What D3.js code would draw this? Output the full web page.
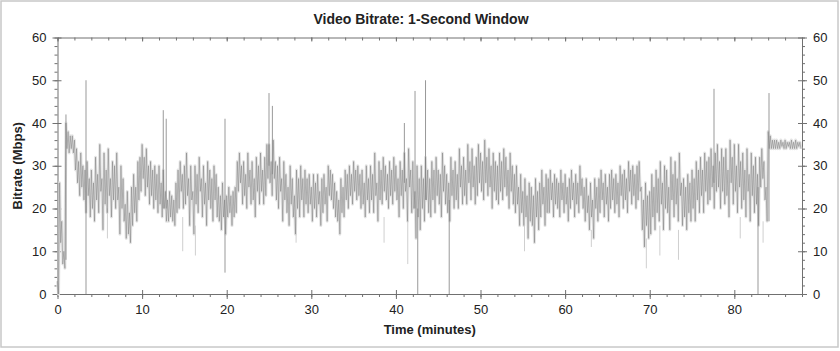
<!DOCTYPE html>
<html>
<head>
<meta charset="utf-8">
<script src="https://cdn.jsdelivr.net/npm/d3@7"></script>
<style>
  body { margin: 0; background: #fff; }
  svg { display: block; font-family: "Liberation Sans", Arial, sans-serif; }
  .axis path, .axis line { stroke: #707070; }
  .axis text { fill: #222; font-size: 13px; }
</style>
</head>
<body>
<div id="chart"></div>
<script>
// each quarter minute holds a local peak and a local trough (Mbps),
// one row per minute
var stepMinutes = 0.25;
var peakRate = [
  3, 26, 17, 10,
  40, 38, 37, 37,
  36, 34, 31, 33,
  30, 29, 31, 27,
  29, 26, 32, 28,
  35, 27, 33, 29,
  34, 27, 31, 30,
  33, 25, 30, 27,
  21, 24, 19, 25,
  28, 25, 31, 32,
  35, 32, 34, 30,
  31, 29, 30, 28,
  30, 26, 29, 24,
  22, 24, 23, 22,
  26, 29, 31, 28,
  30, 33, 27, 30,
  24, 30, 28, 32,
  27, 30, 26, 31,
  29, 27, 30, 28,
  25, 23, 26, 22,
  23, 25, 23, 24,
  25, 31, 33, 30,
  31, 28, 33, 29,
  31, 27, 32, 30,
  33, 29, 32, 35,
  35, 31, 36, 31,
  30, 32, 27, 31,
  28, 25, 30, 27,
  23, 29, 27, 30,
  27, 29, 27, 28,
  25, 28, 26, 28,
  24, 27, 28, 25,
  30, 29, 28, 26,
  24, 22, 27, 25,
  29, 28, 30, 28,
  31, 29, 30, 28,
  29, 26, 30, 27,
  30, 28, 33, 26,
  31, 29, 32, 30,
  28, 31, 29, 32,
  30, 27, 31, 29,
  33, 27, 34, 29,
  31, 24, 30, 27,
  30, 27, 32, 29,
  27, 31, 29, 32,
  29, 28, 33, 30,
  28, 26, 32, 29,
  31, 28, 34, 30,
  32, 29, 35, 31,
  34, 30, 32, 35,
  33, 31, 36, 32,
  34, 30, 33, 31,
  30, 33, 31, 34,
  32, 29, 33, 30,
  28, 30, 25, 28,
  24, 27, 23, 26,
  25, 23, 27, 24,
  26, 29, 25, 28,
  27, 29, 26, 28,
  27, 26, 29, 26,
  28, 25, 27, 29,
  26, 28, 26, 30,
  27, 25, 27, 23,
  26, 22, 27, 25,
  27, 29, 26, 28,
  25, 28, 29, 27,
  28, 26, 30, 28,
  29, 27, 31, 29,
  30, 28, 30, 31,
  25, 22, 26, 23,
  24, 28, 25, 29,
  27, 31, 26, 30,
  29, 25, 32, 28,
  31, 27, 33, 26,
  27, 25, 28, 26,
  29, 27, 31, 29,
  32, 29, 33, 31,
  32, 34, 30, 33,
  35, 31, 34, 32,
  34, 29, 36, 32,
  35, 30, 35, 31,
  33, 29, 34, 28,
  33, 30, 32, 28,
  32, 34, 31, 25,
  38, 37, 36, 36,
  36, 35.5, 36, 35.5,
  36, 35.5, 35.5, 36,
  35.5, 36, 35.5, 35.5
];
var troughRate = [
  0, 12, 7, 6,
  34, 33, 34, 33,
  29, 26, 23, 25,
  22, 19, 23, 18,
  20, 17, 22, 19,
  24, 15, 21, 19,
  23, 18, 22, 20,
  22, 14, 20, 17,
  13, 14, 12, 16,
  19, 17, 22, 24,
  27, 23, 25, 21,
  23, 20, 22, 19,
  21, 18, 20, 17,
  17, 18, 17, 16,
  19, 20, 24, 20,
  21, 23, 16, 22,
  14, 21, 19, 24,
  18, 21, 16, 22,
  20, 17, 22, 18,
  17, 15, 18, 14,
  18, 19, 16, 18,
  19, 24, 26, 21,
  23, 20, 25, 21,
  22, 18, 24, 21,
  24, 21, 23, 27,
  26, 23, 27, 22,
  20, 24, 17, 22,
  19, 16, 21, 18,
  14, 20, 18, 22,
  18, 21, 19, 21,
  17, 20, 18, 21,
  16, 19, 21, 17,
  23, 22, 20, 18,
  17, 14, 19, 18,
  22, 20, 23, 21,
  24, 22, 23, 20,
  21, 18, 22, 19,
  22, 19, 23, 17,
  22, 21, 24, 22,
  20, 23, 21, 24,
  22, 18, 23, 20,
  24, 17, 25, 19,
  20, 13, 18, 15,
  20, 17, 22, 19,
  18, 22, 19, 23,
  21, 18, 24, 21,
  19, 17, 23, 20,
  22, 20, 25, 21,
  23, 21, 26, 22,
  25, 21, 23, 26,
  24, 22, 26, 23,
  25, 20, 24, 22,
  21, 24, 22, 25,
  23, 20, 24, 21,
  19, 21, 16, 19,
  16, 18, 13, 17,
  16, 12, 18, 15,
  18, 21, 16, 19,
  19, 22, 18, 21,
  20, 18, 22, 19,
  21, 17, 20, 22,
  18, 21, 19, 23,
  20, 17, 19, 15,
  18, 13, 20, 17,
  19, 22, 18, 21,
  17, 20, 22, 19,
  21, 18, 23, 20,
  22, 19, 24, 21,
  23, 20, 22, 24,
  15, 11, 16, 13,
  14, 18, 15, 19,
  17, 21, 15, 20,
  19, 15, 22, 18,
  21, 17, 23, 16,
  18, 15, 19, 17,
  20, 17, 22, 19,
  23, 19, 24, 21,
  22, 25, 20, 24,
  25, 20, 24, 21,
  23, 18, 26, 21,
  24, 19, 25, 20,
  22, 18, 24, 17,
  23, 19, 21, 16,
  25, 27, 22, 17,
  34, 34, 34, 34,
  34, 34, 34.5, 34,
  34, 34.5, 34, 34,
  34, 34, 34.5, 34
];

// isolated spikes: [minute, from Mbps, to Mbps]
var spikes = [
  [0.05, 0, 26],
  [1.0, 8, 42],
  [3.37, 0, 50],
  [12.5, 20, 43],
  [12.85, 20, 41],
  [19.8, 5, 41],
  [25.0, 30, 47],
  [25.4, 28, 44],
  [41.0, 26, 40],
  [42.26, 20, 47.5],
  [42.58, 0, 20],
  [43.5, 22, 50],
  [46.3, 0, 22],
  [77.6, 26, 48],
  [82.8, 0, 25],
  [84.1, 17, 47]
];

// faint short dips below the band: [minute, from Mbps, to Mbps]
var dips = [
  [5.9, 13, 20],
  [14.8, 10, 18],
  [16.3, 9, 16],
  [28.2, 12, 18],
  [38.6, 12, 18],
  [41.4, 7, 17],
  [55.2, 10, 16],
  [63.1, 11, 15],
  [69.6, 6, 13],
  [71.2, 9, 16],
  [73.4, 8, 15],
  [80.7, 13, 18],
  [83.4, 12, 17]
];

var xTicks = [0, 10, 20, 30, 40, 50, 60, 70, 80];
var yTicks = [0, 10, 20, 30, 40, 50, 60];

var W = 840, H = 351;
var margin = {top: 37.5, right: 38, bottom: 57, left: 57.5};
var width = W - margin.left - margin.right,
  height = H - margin.top - margin.bottom;

var svg = d3
  .select("#chart")
  .append("svg")
  .attr("width", W)
  .attr("height", H);

// outer frame
svg
  .append("rect")
  .attr("x", 1)
  .attr("y", 1)
  .attr("width", W - 3)
  .attr("height", H - 5)
  .attr("fill", "#fff")
  .attr("stroke", "#c8c8c8")
  .attr("stroke-width", 1.5);

svg
  .append("text")
  .attr("x", 421)
  .attr("y", 24)
  .attr("text-anchor", "middle")
  .style("font-weight", "bold")
  .style("font-size", "14px")
  .attr("fill", "#222")
  .text("Video Bitrate: 1-Second Window");

var g = svg
  .append("g")
  .attr("transform", "translate(" + margin.left + "," + margin.top + ")");

var xScale = d3.scaleLinear().domain([0, 88]).range([0, width]);
var yScale = d3.scaleLinear().domain([0, 60]).range([height, 0]);

var minorX = d3.range(0, 89, 2);
var minorY = d3.range(0, 61, 2);

// minor ticks first
g.append("g")
  .attr("class", "axis")
  .attr("transform", "translate(0," + height + ")")
  .call(d3.axisBottom(xScale).tickValues(minorX).tickSize(3).tickFormat(""))
  .select(".domain").remove();
g.append("g")
  .attr("class", "axis")
  .call(d3.axisBottom(xScale).tickValues(minorX).tickSize(3).tickFormat(""))
  .select(".domain").remove();
g.append("g")
  .attr("class", "axis")
  .call(d3.axisLeft(yScale).tickValues(minorY).tickSize(3).tickFormat(""))
  .select(".domain").remove();
g.append("g")
  .attr("class", "axis")
  .attr("transform", "translate(" + width + ",0)")
  .call(d3.axisRight(yScale).tickValues(minorY).tickSize(3).tickFormat(""))
  .select(".domain").remove();

// major axes
g.append("g")
  .attr("class", "axis")
  .attr("transform", "translate(0," + height + ")")
  .call(d3.axisBottom(xScale).tickValues(xTicks).tickSizeInner(5).tickSizeOuter(0).tickPadding(6))
  .selectAll(".tick line").attr("y1", -4);
g.append("g")
  .attr("class", "axis")
  .call(d3.axisTop(xScale).tickValues(xTicks).tickSizeInner(-4).tickSizeOuter(0).tickFormat(""));
g.append("g")
  .attr("class", "axis")
  .call(d3.axisLeft(yScale).tickValues(yTicks).tickSizeInner(5).tickSizeOuter(0).tickPadding(6))
  .selectAll(".tick line").attr("x1", 4);
g.append("g")
  .attr("class", "axis")
  .attr("transform", "translate(" + width + ",0)")
  .call(d3.axisRight(yScale).tickValues(yTicks).tickSizeInner(5).tickSizeOuter(0).tickPadding(6))
  .selectAll(".tick line").attr("x1", -4);

// zigzag through peak, trough, peak, trough...
var trace = [];
peakRate.forEach(function(p, i) {
  trace.push([i * stepMinutes, p]);
  trace.push([i * stepMinutes + stepMinutes / 2, troughRate[i]]);
});

var line = d3
  .line()
  .x(function(d) { return xScale(d[0]); })
  .y(function(d) { return yScale(d[1]); });

g.append("path")
  .datum(trace)
  .attr("fill", "none")
  .attr("stroke", "#e4e4e4")
  .attr("stroke-width", 3)
  .attr("stroke-linejoin", "round")
  .attr("d", line);

g.selectAll(".dip")
  .data(dips)
  .enter()
  .append("line")
  .attr("class", "dip")
  .attr("x1", function(d) { return xScale(d[0]); })
  .attr("x2", function(d) { return xScale(d[0]); })
  .attr("y1", function(d) { return yScale(d[1]); })
  .attr("y2", function(d) { return yScale(d[2]); })
  .attr("stroke", "#cfcfcf")
  .attr("stroke-width", 1);

g.selectAll(".spike")
  .data(spikes)
  .enter()
  .append("line")
  .attr("class", "spike")
  .attr("x1", function(d) { return xScale(d[0]); })
  .attr("x2", function(d) { return xScale(d[0]); })
  .attr("y1", function(d) { return yScale(d[1]); })
  .attr("y2", function(d) { return yScale(d[2]); })
  .attr("stroke", "#999")
  .attr("stroke-width", 1);

g.append("path")
  .datum(trace)
  .attr("fill", "none")
  .attr("stroke", "#7c7c7c")
  .attr("stroke-opacity", 0.85)
  .attr("stroke-width", 0.6)
  .attr("d", line);

svg
  .append("text")
  .attr("x", margin.left + width / 2)
  .attr("y", 334)
  .attr("text-anchor", "middle")
  .style("font-weight", "bold")
  .style("font-size", "13px")
  .attr("fill", "#222")
  .text("Time (minutes)");

svg
  .append("text")
  .attr("transform", "translate(22," + (margin.top + height / 2) + ") rotate(-90)")
  .attr("text-anchor", "middle")
  .style("font-weight", "bold")
  .style("font-size", "13px")
  .attr("fill", "#222")
  .text("Bitrate (Mbps)");
</script>
</body>
</html>
